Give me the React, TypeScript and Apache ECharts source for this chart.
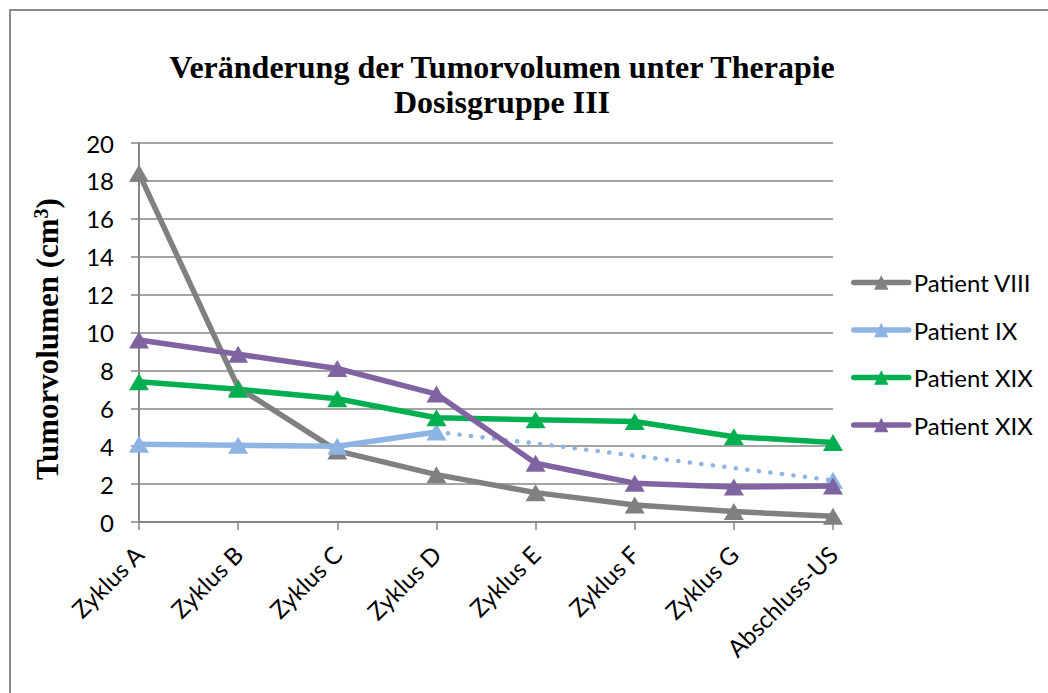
import React, { useEffect, useRef } from "react";
import * as echarts from "echarts";

const categories = ["Zyklus A", "Zyklus B", "Zyklus C", "Zyklus D", "Zyklus E", "Zyklus F", "Zyklus G", "Abschluss-US"];
const patientVIII = [18.4, 7.1, 3.75, 2.5, 1.55, 0.9, 0.55, 0.3];
const patientIX = [4.1, 4.05, 4.0, 4.75, null, null, null, null];
const patientIXDotted = [null, null, null, 4.75, 4.15, 3.5, 2.85, 2.2];
const patientXIXGreen = [7.4, 7.0, 6.5, 5.5, 5.4, 5.3, 4.5, 4.2];
const patientXIXPurple = [9.6, 8.85, 8.1, 6.75, 3.1, 2.05, 1.85, 1.9];
const yTicks = { min: 0, max: 20, interval: 2 };

const SANS = "Lato";
const SERIF = "Liberation Serif";
const GRID = "#868686";

export default function App() {
  const ref = useRef<HTMLDivElement>(null);
  useEffect(() => {
    if (!ref.current) return;
    const chart = echarts.init(ref.current, null, { renderer: "svg" });
    const tri = (name: string, color: string, data: (number | null)[]) => ({
      name,
      type: "line",
      data,
      color,
      symbol: "triangle",
      symbolSize: [20, 17],
      lineStyle: { width: 5.5, color },
      itemStyle: { color },
      z: 3,
    });
    const option: any = {
      animation: false,
      backgroundColor: "#ffffff",
      grid: { left: 139, right: 215, top: 143, bottom: 171 },
      xAxis: {
        type: "category",
        data: categories,
        boundaryGap: false,
        axisLine: { lineStyle: { color: GRID, width: 2 } },
        axisTick: { show: true, length: 8, lineStyle: { color: GRID, width: 1.5 } },
        axisLabel: { rotate: 45, margin: 28, fontFamily: SANS, fontSize: 24, color: "#000" },
        splitLine: { show: false },
      },
      yAxis: {
        type: "value",
        min: yTicks.min,
        max: yTicks.max,
        interval: yTicks.interval,
        axisLine: { show: true, lineStyle: { color: GRID, width: 2 } },
        axisTick: { show: true, length: 8, lineStyle: { color: GRID, width: 1.5 } },
        axisLabel: { margin: 25, fontFamily: SANS, fontSize: 24, color: "#000" },
        splitLine: { show: true, lineStyle: { color: GRID, width: 1.5 } },
      },
      legend: {
        orient: "vertical",
        left: 846,
        top: 265,
        itemWidth: 55,
        itemHeight: 18,
        itemGap: 22.5,
        data: ["Patient VIII", "Patient IX", "Patient XIX", "Patient XIX "],
        formatter: (n: string) => n.trim(),
        lineStyle: { width: 5.5, cap: "round" },
        textStyle: { fontFamily: SANS, fontSize: 24, color: "#000", lineHeight: 25 },
      },
      series: [
        tri("Patient VIII", "#808080", patientVIII),
        tri("Patient IX", "#8eb4e3", patientIX),
        {
          name: "Patient IX trend",
          type: "line",
          data: patientIXDotted.map((v, i) =>
            i === patientIXDotted.length - 1 ? { value: v, symbol: "triangle", symbolSize: [20, 17] } : { value: v, symbol: "none" }
          ),
          color: "#8eb4e3",
          lineStyle: { width: 4.5, color: "#8eb4e3", type: [0.1, 11.5], cap: "round" },
          itemStyle: { color: "#8eb4e3" },
          z: 2,
        },
        tri("Patient XIX", "#00b050", patientXIXGreen),
        tri("Patient XIX ", "#8064a2", patientXIXPurple),
      ],
      graphic: [
        {
          type: "rect",
          shape: { x: 10, y: 10, width: 1100, height: 800 },
          style: { fill: "none", stroke: "#8a8a8a", lineWidth: 2 },
          silent: true,
        },
        {
          type: "text",
          x: 502,
          y: 49,
          style: {
            text: "Veränderung der Tumorvolumen unter Therapie\nDosisgruppe III",
            fontFamily: SERIF,
            fontWeight: "bold",
            fontSize: 32,
            lineHeight: 35,
            textAlign: "center",
            textVerticalAlign: "top",
            fill: "#000",
          },
        },
        {
          type: "text",
          x: 47,
          y: 339,
          rotation: Math.PI / 2,
          style: {
            text: "{a|Tumorvolumen (cm}{b|3}{a|)}",
            textAlign: "center",
            textVerticalAlign: "middle",
            rich: {
              a: { fontFamily: SERIF, fontWeight: "bold", fontSize: 31, fill: "#000" },
              b: { fontFamily: SERIF, fontWeight: "bold", fontSize: 20, fill: "#000", verticalAlign: "top", padding: [0, 0, 12, 0] },
            },
          },
        },
      ],
    };
    chart.setOption(option);
    return () => chart.dispose();
  }, []);
  return <div ref={ref} style={{ position: "fixed", left: 0, top: 0, width: 1048, height: 693 }} />;
}
